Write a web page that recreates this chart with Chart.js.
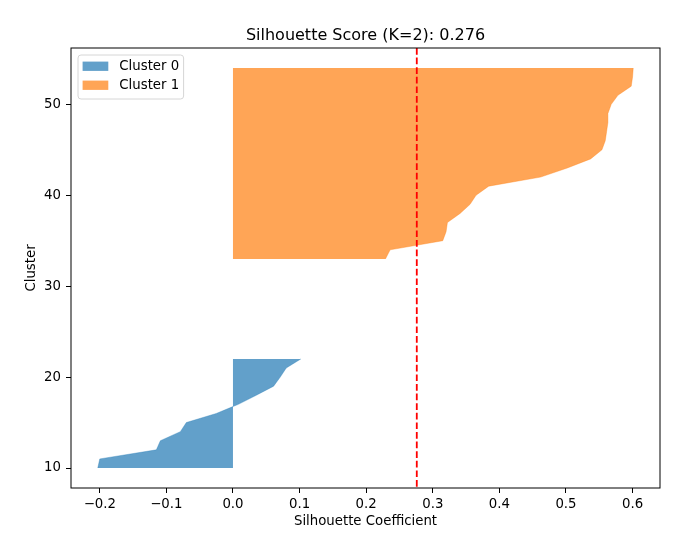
<!DOCTYPE html>
<html>
<head>
<meta charset="utf-8">
<title>Silhouette Score (K=2)</title>
<script src="https://cdn.jsdelivr.net/npm/chart.js@4.4.1/dist/chart.umd.min.js"></script>
<style>
  html, body { margin: 0; padding: 0; background: #fff; }
  #wrap { width: 693px; height: 551px; position: relative; }
</style>
</head>
<body>
<div id="wrap"><canvas id="silhouetteChart"></canvas></div>
<script>
// silhouette values of each cluster, sorted ascending (one per sample row)
const clusterNames = ['Cluster 0', 'Cluster 1'];
const cluster0Values = [-0.203, -0.200, -0.115, -0.109, -0.079, -0.070, -0.025, 0.008, 0.035, 0.061, 0.071, 0.080, 0.102];
const cluster1Values = [0.229, 0.236, 0.315, 0.320, 0.322, 0.341, 0.356, 0.365, 0.384, 0.462, 0.502, 0.537,
                        0.554, 0.559, 0.561, 0.563, 0.563, 0.568, 0.578, 0.598, 0.600, 0.601];
const clusterStarts = [10, 33];   // first sample row of each cluster
const silhouetteScore = 0.276;
const chartTitle = 'Silhouette Score (K=2): ' + silhouetteScore.toFixed(3);
const xTicks = [-0.2, -0.1, 0.0, 0.1, 0.2, 0.3, 0.4, 0.5, 0.6];
const yTicks = [10, 20, 30, 40, 50];
const clusterColors = ['rgba(31,119,180,0.7)', 'rgba(255,127,14,0.7)'];

const FONT = 'DejaVu Sans';
Chart.defaults.font.family = FONT;
Chart.defaults.font.size = 13.3;
Chart.defaults.color = '#000';

function toPoints(values, start) {
  return values.map((v, i) => ({ x: v, y: start + i }));
}

const clusterValues = [cluster0Values, cluster1Values];
const datasets = clusterValues.map((vals, k) => ({
  label: clusterNames[k],
  data: toPoints(vals, clusterStarts[k]),
  fill: 'origin',
  backgroundColor: clusterColors[k],
  borderColor: clusterColors[k],
  borderWidth: 0.5,
  pointRadius: 0,
  tension: 0
}));

// matplotlib-ish decorations: frame, score line, title, legend box
const decorations = {
  id: 'decorations',
  afterDatasetsDraw(chart) {
    const { ctx, chartArea: a, scales } = chart;
    ctx.save();

    // average score line
    const sx = scales.x.getPixelForValue(silhouetteScore);
    ctx.strokeStyle = '#ff0000';
    ctx.lineWidth = 1.8;
    ctx.setLineDash([6.7, 2.9]);
    ctx.beginPath();
    ctx.moveTo(sx, a.top);
    ctx.lineTo(sx, a.bottom);
    ctx.stroke();
    ctx.setLineDash([]);

    // axes frame
    ctx.strokeStyle = '#000';
    ctx.lineWidth = 1;
    ctx.strokeRect(a.left, a.top, a.right - a.left, a.bottom - a.top);

    // title
    ctx.fillStyle = '#000';
    ctx.font = '16px "' + FONT + '"';
    ctx.textAlign = 'center';
    ctx.textBaseline = 'alphabetic';
    ctx.fillText(chartTitle, (a.left + a.right) / 2, a.top - 7.6);

    // legend
    const lx = a.left + 7, ly = a.top + 7, lw = 105.6, lh = 44;
    ctx.beginPath();
    ctx.roundRect(lx, ly, lw, lh, 3);
    ctx.fillStyle = 'rgba(255,255,255,0.8)';
    ctx.fill();
    ctx.strokeStyle = '#d6d6d6';
    ctx.lineWidth = 1;
    ctx.stroke();
    ctx.font = '13.3px "' + FONT + '"';
    ctx.textAlign = 'left';
    ctx.textBaseline = 'middle';
    clusterNames.forEach((name, k) => {
      const cy = a.top + 18.2 + k * 19;
      ctx.fillStyle = clusterColors[k];
      ctx.fillRect(lx + 4.6, cy - 4.6, 25.7, 9.3);
      ctx.fillStyle = '#000';
      ctx.fillText(name, lx + 41.3, cy);
    });

    ctx.restore();
  }
};

const fmt = v => (Math.abs(v) < 1e-9 ? 0 : v).toFixed(1).replace('-', '\u2212');

new Chart(document.getElementById('silhouetteChart'), {
  type: 'line',
  data: { datasets },
  options: {
    indexAxis: 'y',
    responsive: true,
    maintainAspectRatio: false,
    animation: false,
    layout: { padding: { top: 48, right: 33, left: 0, bottom: 0 } },
    plugins: {
      legend: { display: false },
      title: { display: false },
      tooltip: { enabled: false }
    },
    scales: {
      x: {
        type: 'linear',
        position: 'bottom',
        min: -0.2432,
        max: 0.6412,
        afterBuildTicks: s => { s.ticks = xTicks.map(v => ({ value: v })); },
        afterFit: s => { s.height = 63; },
        ticks: { callback: v => fmt(v), padding: 4, maxRotation: 0, autoSkip: false },
        grid: { display: true, drawOnChartArea: false, drawTicks: true, tickLength: 5, color: '#000' },
        border: { display: false },
        title: { display: true, text: 'Silhouette Coefficient', padding: { top: 0, bottom: 21 } }
      },
      y: {
        type: 'linear',
        position: 'left',
        min: 7.8,
        max: 56.2,
        afterBuildTicks: s => { s.ticks = yTicks.map(v => ({ value: v })); },
        afterFit: s => { s.width = 71; },
        ticks: { padding: 5, autoSkip: false },
        grid: { display: true, drawOnChartArea: false, drawTicks: true, tickLength: 5, color: '#000' },
        border: { display: false },
        title: { display: true, text: 'Cluster', padding: { top: 24, bottom: 0 } }
      }
    }
  },
  plugins: [decorations]
});
</script>
</body>
</html>
